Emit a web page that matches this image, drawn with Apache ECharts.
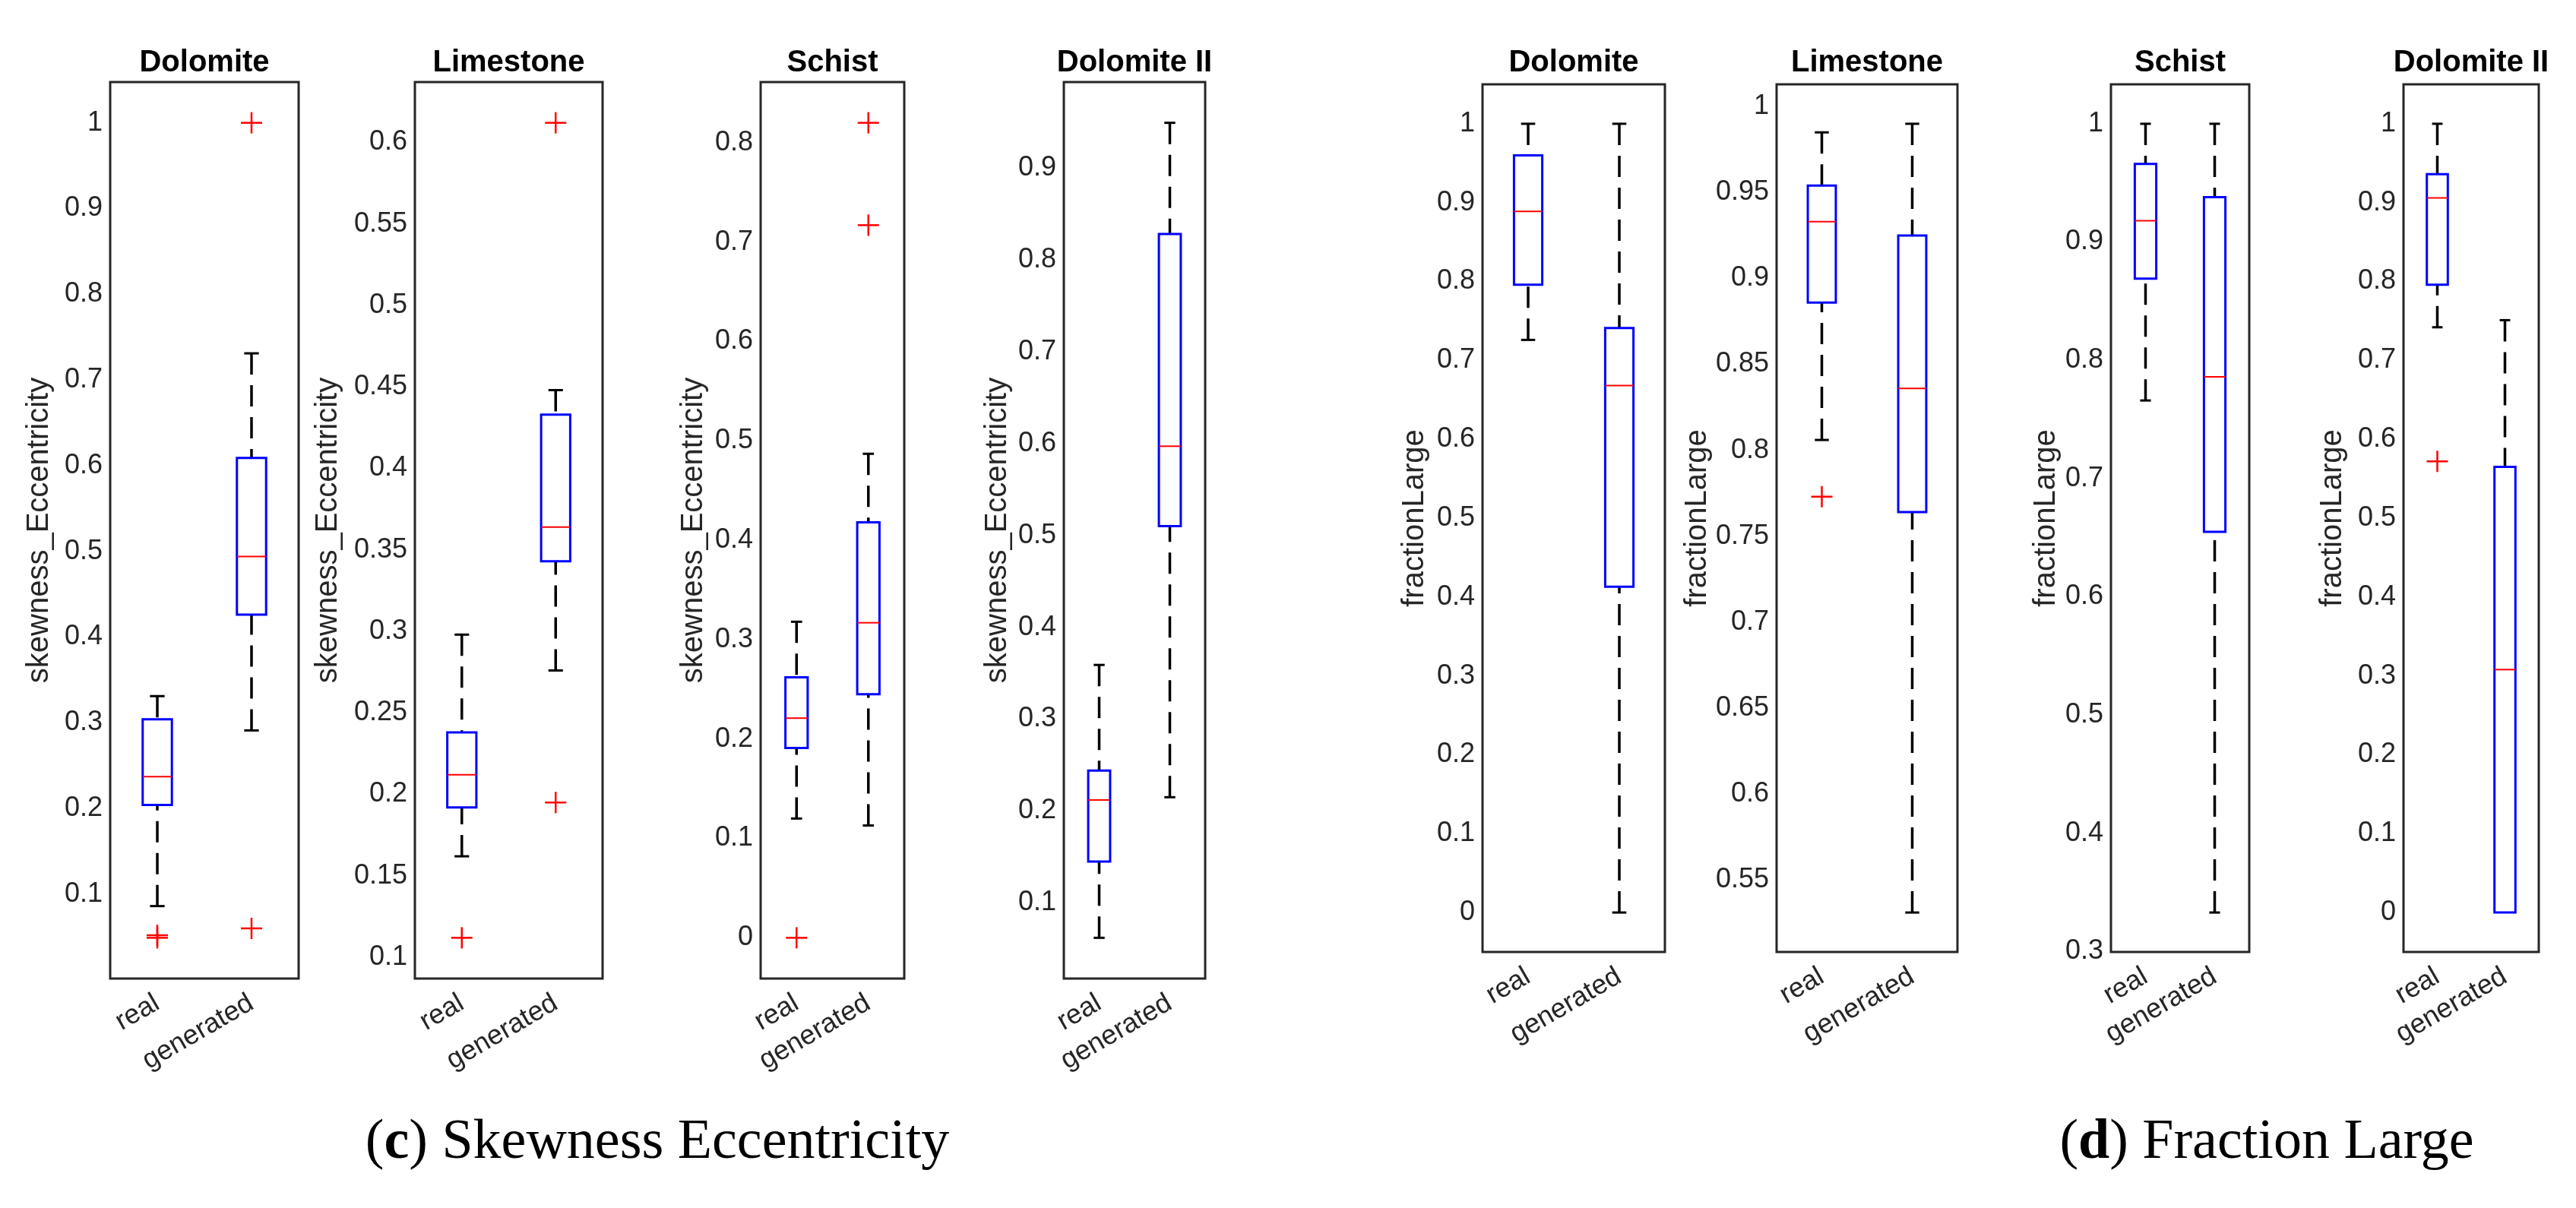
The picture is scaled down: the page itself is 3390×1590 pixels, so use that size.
<!DOCTYPE html>
<html>
<head>
<meta charset="utf-8">
<title>Boxplots: skewness eccentricity and fraction large</title>
<script src="https://cdn.jsdelivr.net/npm/echarts@6.0.0/dist/echarts.min.js"></script>
<style>
  html, body { margin: 0; padding: 0; background: #fff; }
  #chart { width: 3390px; height: 1590px; }
</style>
</head>
<body>
<div id="chart"></div>
<script>
const groups = ['real', 'generated'];
const rocks = ['Dolomite', 'Limestone', 'Schist', 'Dolomite II'];

// one box = [lower whisker, Q1, median, Q3, upper whisker]
const skewReal = [
  [0.086, 0.204, 0.237, 0.304, 0.331],
  [0.162, 0.192, 0.212, 0.238, 0.298],
  [0.120, 0.191, 0.221, 0.262, 0.318],
  [0.062, 0.145, 0.212, 0.244, 0.359]
];
const skewGen = [
  [0.291, 0.426, 0.494, 0.609, 0.731],
  [0.276, 0.343, 0.364, 0.433, 0.448],
  [0.113, 0.245, 0.317, 0.418, 0.487],
  [0.215, 0.510, 0.597, 0.828, 0.949]
];
const skewOutReal = [[0.052, 0.049], [0.112], [0.0], []];
const skewOutGen = [[1.0, 0.060], [0.612, 0.195], [0.820, 0.717], []];
const skewTicks = [
  [0.1, 0.2, 0.3, 0.4, 0.5, 0.6, 0.7, 0.8, 0.9, 1],
  [0.1, 0.15, 0.2, 0.25, 0.3, 0.35, 0.4, 0.45, 0.5, 0.55, 0.6],
  [0, 0.1, 0.2, 0.3, 0.4, 0.5, 0.6, 0.7, 0.8],
  [0.1, 0.2, 0.3, 0.4, 0.5, 0.6, 0.7, 0.8, 0.9]
];

const fracReal = [
  [0.726, 0.796, 0.889, 0.960, 1.0],
  [0.806, 0.886, 0.933, 0.954, 0.985],
  [0.766, 0.869, 0.918, 0.966, 1.0],
  [0.742, 0.796, 0.906, 0.936, 1.0]
];
const fracGen = [
  [0.0, 0.413, 0.668, 0.741, 1.0],
  [0.531, 0.764, 0.836, 0.925, 0.990],
  [0.333, 0.655, 0.786, 0.938, 1.0],
  [0.0, 0.0, 0.308, 0.565, 0.751]
];
const fracOutReal = [[], [0.773], [], [0.572]];
const fracOutGen = [[], [], [], []];
const fracTicks = [
  [0, 0.1, 0.2, 0.3, 0.4, 0.5, 0.6, 0.7, 0.8, 0.9, 1],
  [0.55, 0.6, 0.65, 0.7, 0.75, 0.8, 0.85, 0.9, 0.95, 1],
  [0.3, 0.4, 0.5, 0.6, 0.7, 0.8, 0.9, 1],
  [0, 0.1, 0.2, 0.3, 0.4, 0.5, 0.6, 0.7, 0.8, 0.9, 1]
];

// layout of the eight axes (pixels)
const panelLeft = [145, 546, 1001, 1400, 1951, 2338, 2778, 3163];
const panelRight = [393, 793, 1190, 1586, 2191, 2576, 2960, 3341];
const panelTop = [108, 108, 108, 108, 111, 111, 111, 111];
const panelBottom = [1288, 1288, 1288, 1288, 1253, 1253, 1253, 1253];
const nameGaps = [73, 94, 68, 67, 69, 83, 65, 73];

const AXIS = '#262626';
const SANS = 'Liberation Sans, Arial, sans-serif';

function renderBox(params, api) {
  const cat = api.value(0);
  const lo = api.coord([cat, api.value(1)]);
  const q1 = api.coord([cat, api.value(2)]);
  const med = api.coord([cat, api.value(3)]);
  const q3 = api.coord([cat, api.value(4)]);
  const hi = api.coord([cat, api.value(5)]);
  const cx = med[0];
  const bw = api.size([1, 0])[0] * 0.31;
  const cw = bw * 0.5;
  const dashed = { stroke: '#000', lineWidth: 3.5, lineDash: [28, 14] };
  const solid = { stroke: '#000', lineWidth: 3 };
  const kids = [];
  if (hi[1] < q3[1] - 0.5) {
    kids.push({ type: 'line', shape: { x1: cx, y1: hi[1], x2: cx, y2: q3[1] }, style: dashed });
    kids.push({ type: 'line', shape: { x1: cx - cw / 2, y1: hi[1], x2: cx + cw / 2, y2: hi[1] }, style: solid });
  }
  if (lo[1] > q1[1] + 0.5) {
    kids.push({ type: 'line', shape: { x1: cx, y1: lo[1], x2: cx, y2: q1[1] }, style: dashed });
    kids.push({ type: 'line', shape: { x1: cx - cw / 2, y1: lo[1], x2: cx + cw / 2, y2: lo[1] }, style: solid });
  }
  kids.push({
    type: 'rect',
    shape: { x: cx - bw / 2, y: q3[1], width: bw, height: q1[1] - q3[1] },
    style: { fill: 'none', stroke: '#0000ff', lineWidth: 3 }
  });
  kids.push({ type: 'line', shape: { x1: cx - bw / 2, y1: med[1], x2: cx + bw / 2, y2: med[1] }, style: { stroke: '#ff0000', lineWidth: 2 } });
  return { type: 'group', children: kids };
}

function renderCross(params, api) {
  const p = api.coord([api.value(0), api.value(1)]);
  const h = 14;
  const st = { stroke: '#ff0000', lineWidth: 2.5 };
  return {
    type: 'group',
    children: [
      { type: 'line', shape: { x1: p[0] - h, y1: p[1], x2: p[0] + h, y2: p[1] }, style: st },
      { type: 'line', shape: { x1: p[0], y1: p[1] - h, x2: p[0], y2: p[1] + h }, style: st }
    ]
  };
}

const panels = [];
rocks.forEach((r, k) => panels.push({ title: r, name: 'skewness_Eccentricity', real: skewReal[k], gen: skewGen[k], outReal: skewOutReal[k], outGen: skewOutGen[k], ticks: skewTicks[k] }));
rocks.forEach((r, k) => panels.push({ title: r, name: 'fractionLarge', real: fracReal[k], gen: fracGen[k], outReal: fracOutReal[k], outGen: fracOutGen[k], ticks: fracTicks[k] }));

const option = {
  backgroundColor: '#fff',
  animation: false,
  grid: [], xAxis: [], yAxis: [], series: [], graphic: []
};

panels.forEach((p, i) => {
  const all = p.real.concat(p.gen, p.outReal, p.outGen);
  const lo = Math.min(...all), hi = Math.max(...all);
  const pad = (hi - lo) * 0.05;
  const tickStyle = { color: AXIS, width: 3 };

  option.grid.push({
    left: panelLeft[i], top: panelTop[i],
    width: panelRight[i] - panelLeft[i], height: panelBottom[i] - panelTop[i],
    show: true, borderColor: AXIS, borderWidth: 3, backgroundColor: 'transparent'
  });

  const xBase = {
    type: 'category', gridIndex: i, data: groups, boundaryGap: true,
    axisLine: { show: false }, splitLine: { show: false },
    axisTick: { inside: true, alignWithLabel: true, length: 12, lineStyle: tickStyle }
  };
  option.xAxis.push(Object.assign({}, xBase, {
    position: 'bottom',
    axisLabel: { interval: 0, rotate: 30, fontSize: 36, fontFamily: SANS, color: AXIS, margin: 30 }
  }));
  option.xAxis.push(Object.assign({}, xBase, { position: 'top', axisLabel: { show: false } }));

  const yBase = {
    type: 'value', gridIndex: i, min: lo - pad, max: hi + pad,
    axisLine: { show: false }, splitLine: { show: false },
    axisTick: { inside: true, length: 12, customValues: p.ticks, lineStyle: tickStyle }
  };
  option.yAxis.push(Object.assign({}, yBase, {
    position: 'left',
    axisLabel: {
      customValues: p.ticks, fontSize: 36, fontFamily: SANS, color: AXIS, margin: 10,
      formatter: v => String(Math.round(v * 100) / 100)
    },
    name: p.name, nameLocation: 'middle', nameGap: nameGaps[i],
    nameTextStyle: { fontSize: 40, fontFamily: SANS, color: AXIS }
  }));
  option.yAxis.push(Object.assign({}, yBase, { position: 'right', axisLabel: { show: false } }));

  option.series.push({
    type: 'custom', xAxisIndex: 2 * i, yAxisIndex: 2 * i,
    renderItem: renderBox, encode: { x: 0, y: [1, 2, 3, 4, 5] },
    data: [[0].concat(p.real), [1].concat(p.gen)]
  });
  option.series.push({
    type: 'custom', xAxisIndex: 2 * i, yAxisIndex: 2 * i,
    renderItem: renderCross, encode: { x: 0, y: 1 },
    data: p.outReal.map(v => [0, v]).concat(p.outGen.map(v => [1, v]))
  });

  option.graphic.push({
    type: 'text', x: (panelLeft[i] + panelRight[i]) / 2, y: 83,
    style: { text: p.title, font: 'bold 40px ' + SANS, fill: '#000', align: 'center', verticalAlign: 'middle' }
  });
});

const SERIF = 'Liberation Serif, Times New Roman, serif';
const capRich = {
  p: { fontFamily: SERIF, fontSize: 74, color: '#000' },
  b: { fontFamily: SERIF, fontSize: 74, fontWeight: 'bold', color: '#000' }
};
option.graphic.push({
  type: 'text', x: 865, y: 1505,
  style: { text: '{p|(}{b|c}{p|) Skewness Eccentricity}', rich: capRich, align: 'center', verticalAlign: 'middle' }
});
option.graphic.push({
  type: 'text', x: 2983, y: 1505,
  style: { text: '{p|(}{b|d}{p|) Fraction Large}', rich: capRich, align: 'center', verticalAlign: 'middle' }
});

const chart = echarts.init(document.getElementById('chart'));
chart.setOption(option);
</script>
</body>
</html>
